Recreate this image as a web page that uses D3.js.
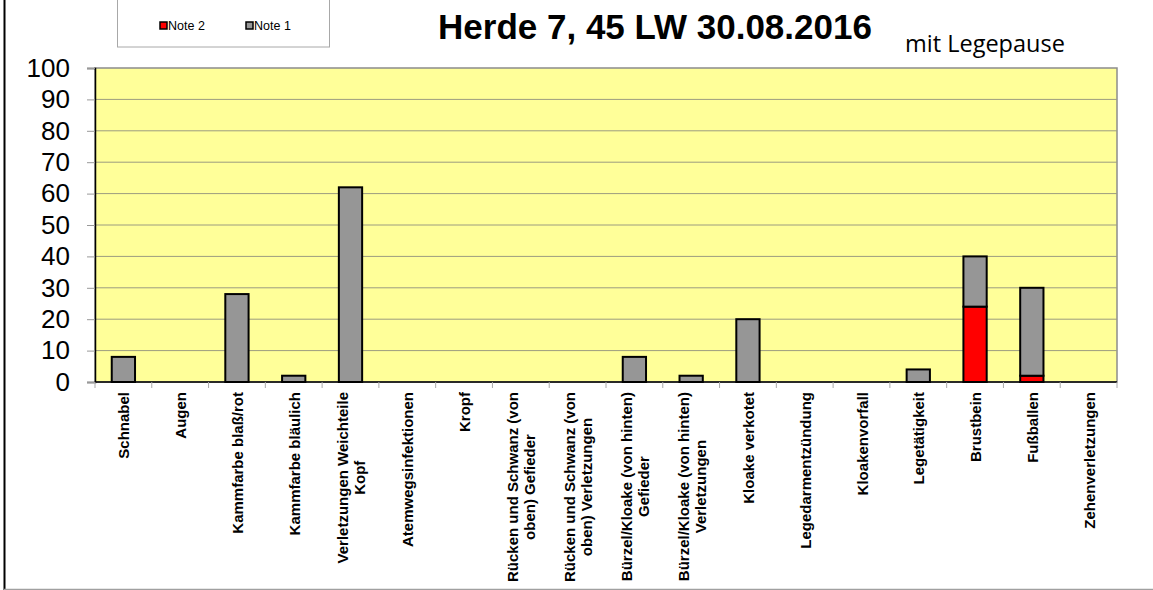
<!DOCTYPE html>
<html>
<head>
<meta charset="utf-8">
<script src="https://cdn.jsdelivr.net/npm/d3@7"></script>
<style>
  html, body { margin: 0; padding: 0; background: #fff; }
  svg { display: block; }
</style>
</head>
<body>
<svg id="chart" width="1153" height="590"></svg>
<script>
// Befund-Kategorien (Zeilenumbrüche mit "|")
const categories = [
  "Schnabel",
  "Augen",
  "Kammfarbe blaß/rot",
  "Kammfarbe bläulich",
  "Verletzungen Weichteile|Kopf",
  "Atemwegsinfektionen",
  "Kropf",
  "Rücken und Schwanz (von|oben) Gefieder",
  "Rücken und Schwanz (von|oben) Verletzungen",
  "Bürzel/Kloake (von hinten)|Gefieder",
  "Bürzel/Kloake (von hinten)|Verletzungen",
  "Kloake verkotet",
  "Legedarmentzündung",
  "Kloakenvorfall",
  "Legetätigkeit",
  "Brustbein",
  "Fußballen",
  "Zehenverletzungen"
];
// Anteile in %, Note 2 unten gestapelt, Note 1 darüber
const note2 = [0, 0, 0, 0, 0, 0, 0, 0, 0, 0, 0, 0, 0, 0, 0, 24, 2, 0];
const note1 = [8, 0, 28, 2, 62, 0, 0, 0, 0, 8, 2, 20, 0, 0, 4, 16, 28, 0];
const yTicks = [0, 10, 20, 30, 40, 50, 60, 70, 80, 90, 100];
const seriesNames = ["Note 2", "Note 1"];
const seriesColors = ["#ff0000", "#969696"];
const titleText = "Herde 7, 45 LW 30.08.2016";
const subtitleText = "mit Legepause";

const svg = d3.select("#chart");
const plot = { left: 95, right: 1117, top: 68, bottom: 382 };

const x = d3.scaleBand()
  .domain(categories)
  .range([plot.left, plot.right])
  .paddingInner(0.59)
  .paddingOuter(0.295);
const xBand = d3.scaleBand().domain(categories).range([plot.left, plot.right]);
const y = d3.scaleLinear().domain([0, 100]).range([plot.bottom, plot.top]);

// outer frame lines
svg.append("line").attr("x1", 4.5).attr("x2", 4.5).attr("y1", 0).attr("y2", 590)
  .attr("stroke", "#000").attr("stroke-width", 2);
svg.append("line").attr("x1", 4).attr("x2", 1153).attr("y1", 589.5).attr("y2", 589.5)
  .attr("stroke", "#a0a0a0").attr("stroke-width", 1.5);

// plot background
svg.append("rect")
  .attr("x", plot.left).attr("y", plot.top)
  .attr("width", plot.right - plot.left).attr("height", plot.bottom - plot.top)
  .attr("fill", "#ffff99")
  .attr("stroke", "#8c8c8c").attr("stroke-width", 1.5);

// gridlines
svg.append("g").selectAll("line")
  .data(yTicks.filter(d => d > 0 && d < 100))
  .join("line")
  .attr("x1", plot.left).attr("x2", plot.right)
  .attr("y1", d => y(d)).attr("y2", d => y(d))
  .attr("stroke", "#9c9c80").attr("stroke-width", 1);

// y axis
const yAxis = svg.append("g")
  .attr("transform", `translate(${plot.left},0)`)
  .call(d3.axisLeft(y).tickValues(yTicks).tickSize(8).tickPadding(17).tickFormat(d3.format("d")));
yAxis.select(".domain").attr("stroke", "#000").attr("stroke-width", 1.5);
yAxis.selectAll(".tick line").attr("stroke", "#999");
yAxis.selectAll(".tick text")
  .attr("font-family", "'Liberation Sans', Arial, sans-serif")
  .attr("font-size", 26)
  .attr("fill", "#000");

// x axis line and band ticks
svg.append("line")
  .attr("x1", plot.left).attr("x2", plot.right)
  .attr("y1", plot.bottom).attr("y2", plot.bottom)
  .attr("stroke", "#000").attr("stroke-width", 1.5);
const bounds = categories.map(c => xBand(c)).concat([plot.right]);
svg.append("g").selectAll("line").data(bounds).join("line")
  .attr("x1", d => d).attr("x2", d => d)
  .attr("y1", plot.bottom).attr("y2", plot.bottom + 6)
  .attr("stroke", "#aaa");

// stacked bars
const rows = categories.map((c, i) => ({ cat: c, "Note 2": note2[i], "Note 1": note1[i] }));
const stacked = d3.stack().keys(seriesNames)(rows);
svg.append("g").selectAll("g").data(stacked).join("g")
  .attr("fill", (d, i) => seriesColors[i])
  .selectAll("rect")
  .data(d => d.filter(s => s[1] - s[0] > 0))
  .join("rect")
  .attr("x", d => x(d.data.cat))
  .attr("width", x.bandwidth())
  .attr("y", d => y(d[1]))
  .attr("height", d => y(d[0]) - y(d[1]))
  .attr("stroke", "#000")
  .attr("stroke-width", 2);

// category labels, rotated
const labelFont = "'Liberation Sans', Arial, sans-serif";
const labelTop = 392;
const lineGap = 17;
categories.forEach(c => {
  const lines = c.split("|");
  const cx = xBand(c) + xBand.bandwidth() / 2;
  const g = svg.append("g").attr("transform", `translate(${cx},${labelTop}) rotate(-90)`);
  const t = g.append("text")
    .attr("font-family", labelFont)
    .attr("font-size", 15)
    .attr("font-weight", 700)
    .attr("fill", "#000")
    .attr("text-anchor", "middle")
    .attr("dominant-baseline", "central");
  const spans = lines.map((ln, i) => t.append("tspan")
    .attr("y", (i - (lines.length - 1) / 2) * lineGap)
    .text(ln));
  const maxW = d3.max(spans, s => s.node().getComputedTextLength());
  spans.forEach(s => s.attr("x", -maxW / 2));
});

// legend box
svg.append("rect")
  .attr("x", 117.5).attr("y", -2).attr("width", 212).attr("height", 49)
  .attr("fill", "#fff").attr("stroke", "#a8a8a8").attr("stroke-width", 1);
const legendX = [160, 246];
seriesNames.forEach((name, i) => {
  svg.append("rect")
    .attr("x", legendX[i]).attr("y", 22).attr("width", 7).attr("height", 7)
    .attr("fill", seriesColors[i]).attr("stroke", "#000").attr("stroke-width", 1.5);
  svg.append("text")
    .attr("x", legendX[i] + 8).attr("y", 30)
    .attr("font-family", labelFont).attr("font-size", 12.5)
    .attr("fill", "#000")
    .text(name);
});

// title and subtitle
svg.append("text")
  .attr("x", 655).attr("y", 39)
  .attr("text-anchor", "middle")
  .attr("font-family", labelFont)
  .attr("font-size", 35)
  .attr("font-weight", "bold")
  .attr("fill", "#000")
  .text(titleText);
svg.append("text")
  .attr("x", 905).attr("y", 52)
  .attr("font-family", "'Open Sans', 'Noto Sans', sans-serif")
  .attr("font-size", 23.5)
  .attr("fill", "#000")
  .text(subtitleText);
</script>
</body>
</html>
